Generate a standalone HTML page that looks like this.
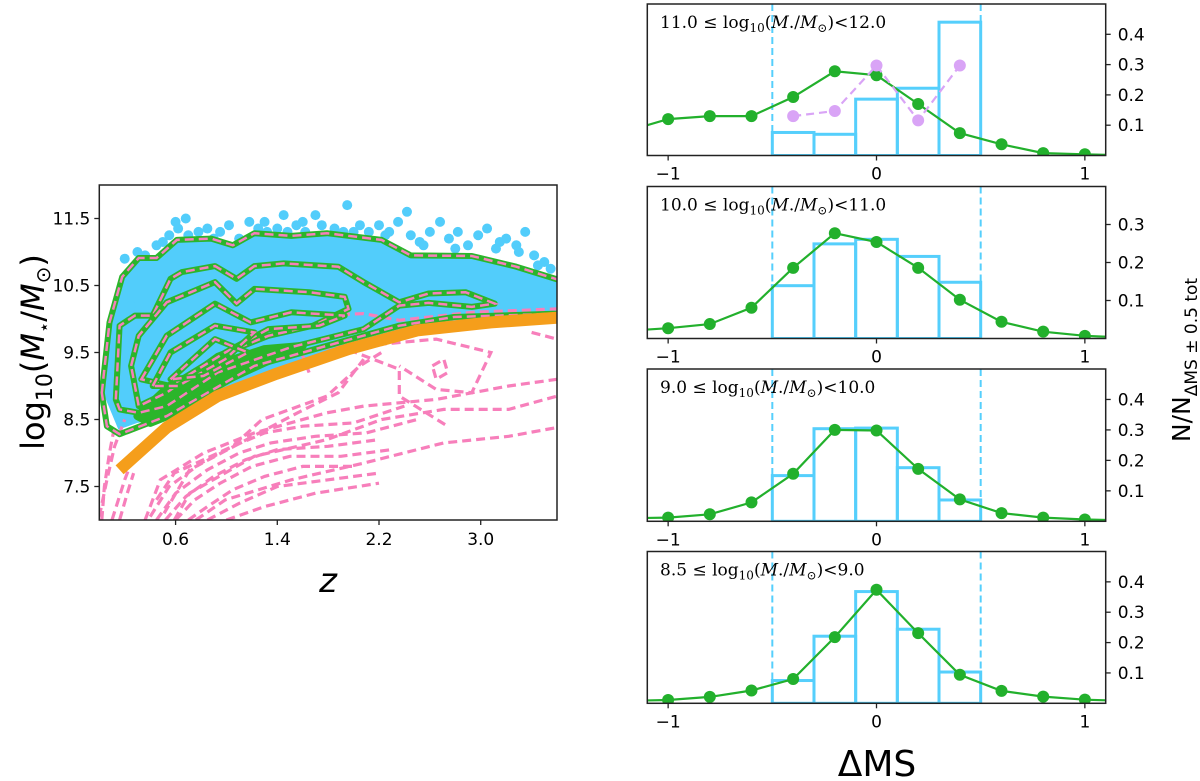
<!DOCTYPE html>
<html><head><meta charset="utf-8"><style>
html,body{margin:0;padding:0;background:#fff;}
svg{display:block;font-family:"DejaVu Sans","Liberation Sans",sans-serif;}
</style></head><body>
<svg id="fig" width="1200" height="781" viewBox="0 0 1200 781" xmlns="http://www.w3.org/2000/svg">
<defs><clipPath id="lclip"><rect x="99.3" y="185" width="457.7" height="335"/></clipPath>
<clipPath id="c0"><rect x="647.3" y="4" width="458.4" height="151.5"/></clipPath>
<clipPath id="c1"><rect x="647.3" y="186.5" width="458.4" height="152"/></clipPath>
<clipPath id="c2"><rect x="647.3" y="369" width="458.4" height="152.3"/></clipPath>
<clipPath id="c3"><rect x="647.3" y="551.5" width="458.4" height="151.8"/></clipPath></defs>
<g id="left"></g>
<g id="right"></g>
<text x="328" y="592" font-size="34" font-style="italic" text-anchor="middle">z</text>
<text transform="translate(44,352) rotate(-90)" font-size="32" text-anchor="middle">log<tspan font-size="22" dy="8">10</tspan><tspan dy="-8">(</tspan><tspan font-style="italic">M</tspan><tspan font-size="18" dy="6">⋆</tspan><tspan dy="-6">/</tspan><tspan font-style="italic">M</tspan><tspan font-size="20" dy="6">⊙</tspan><tspan dy="-6">)</tspan></text>
<text x="877" y="776" font-size="36" text-anchor="middle">ΔMS</text>
<text transform="translate(1190,360) rotate(-90)" font-size="25" text-anchor="middle">N/N<tspan font-size="17" dy="7">ΔMS ± 0.5 tot</tspan></text>
</svg>
<script>
// ---------- left panel data ----------
const orangeZ = [0.16,0.53,0.93,1.39,1.96,2.5,3.08,3.6];
const orangeM = [7.75,8.38,8.85,9.18,9.55,9.83,9.95,10.02];
const cyanCore = [[0.03,8.9],[0.07,9.9],[0.17,10.6],[0.3,10.88],[0.45,10.9],[0.6,11.15],[0.88,11.18],[1.05,11.08],[1.22,11.25],[1.5,11.22],[1.8,11.25],[2.2,11.15],[2.45,10.92],[2.93,10.92],[3.28,10.76],[3.6,10.58],[3.6,10.0],[3.08,9.95],[2.5,9.83],[1.96,9.55],[1.39,9.18],[0.93,8.85],[0.53,8.5],[0.3,8.45],[0.15,8.35]];
const scatterPts = [[0.12,9.3],[0.2,10.9],[0.3,11.0],[0.36,10.95],[0.45,11.1],[0.55,11.25],[0.62,11.35],[0.68,11.5],[0.7,11.25],[0.78,11.3],[0.85,11.35],[0.95,11.3],[1.02,11.4],[1.1,11.2],[1.18,11.45],[1.25,11.35],[1.32,11.3],[1.4,11.35],[1.48,11.3],[1.55,11.4],[1.62,11.3],[1.7,11.55],[1.75,11.4],[1.85,11.35],[1.92,11.3],[2.0,11.3],[2.05,11.4],[2.12,11.3],[2.2,11.4],[2.28,11.3],[2.35,11.45],[2.42,11.6],[2.45,11.25],[2.52,11.15],[2.6,11.3],[2.68,11.45],[2.75,11.2],[2.82,11.3],[2.9,11.1],[2.98,11.25],[3.05,11.35],[3.12,11.05],[3.2,11.2],[3.28,11.1],[3.35,11.3],[3.42,10.95],[3.5,10.85],[3.55,10.75],[1.95,11.7],[1.45,11.55],[0.6,11.45],[3.3,11.0],[0.25,10.2],[0.15,9.7],[0.08,9.4],[0.1,8.9],[2.55,11.1],[3.15,11.15],[2.25,11.25],[1.6,11.45],[0.9,11.2],[0.5,11.15],[3.45,10.8],[3.58,10.45],[1.3,11.45],[2.8,11.05]];
const greenContours = [
 [[0.02,8.9],[0.08,9.95],[0.18,10.63],[0.31,10.91],[0.45,10.91],[0.61,11.18],[0.88,11.2],[1.05,11.1],[1.22,11.28],[1.51,11.24],[1.79,11.28],[2.22,11.18],[2.45,10.95],[2.93,10.94],[3.28,10.78],[3.62,10.58],[3.62,10.08],[2.79,10.03],[2.36,9.9],[1.79,9.6],[1.22,9.3],[0.53,8.55],[0.16,8.28],[0.06,8.4]],
 [[0.13,8.8],[0.16,9.9],[0.28,10.05],[0.42,10.05],[0.56,10.6],[0.65,10.7],[0.91,10.79],[1.08,10.6],[1.22,10.79],[1.45,10.83],[1.88,10.78],[2.08,10.55],[2.36,10.25],[2.59,10.38],[2.88,10.4],[3.11,10.23],[2.93,10.18],[2.59,10.24],[2.36,10.2],[2.08,9.85],[1.51,9.58],[0.93,9.2],[0.53,8.7],[0.31,8.6],[0.16,8.65]],
 [[0.25,9.3],[0.31,9.75],[0.53,10.25],[0.91,10.55],[1.08,10.23],[1.22,10.45],[1.65,10.4],[1.93,10.33],[1.96,10.15],[1.68,9.9],[1.33,9.75],[0.93,9.45],[0.53,8.9],[0.31,8.7]],
 [[0.33,9.1],[0.53,9.75],[0.91,10.23],[1.19,9.95],[1.51,10.1],[1.93,10.05],[1.73,9.9],[1.33,9.85],[0.99,9.5],[0.56,9.0]],
 [[0.42,9.0],[0.56,9.5],[0.91,9.9],[1.22,9.8],[0.99,9.4],[0.62,9.0]],
 [[0.56,9.1],[0.91,9.7],[1.17,9.5],[0.82,9.15]]
];
const greenFill = [[0.3,8.55],[0.55,9.0],[0.9,9.3],[1.3,9.55],[1.6,9.6],[1.3,9.35],[0.9,9.0],[0.6,8.6],[0.4,8.45]];
const pinkContours = [
 [[0.0,7.05],[0.06,7.6],[0.12,8.1],[0.2,8.5]],
 [[0.1,7.0],[0.2,7.6],[0.28,8.0]],
 [[0.02,7.0],[0.04,7.5],[0.08,8.0],[0.12,8.4]],
 [[0.16,7.0],[0.22,7.4],[0.27,7.7]],
 [[0.36,7.0],[0.48,7.6],[0.82,8.0],[1.22,8.3],[1.79,8.6],[2.08,8.7],[2.65,8.8],[3.22,9.0],[3.6,9.1]],
 [[0.59,7.0],[0.71,7.4],[1.22,7.95],[1.79,8.2],[2.22,8.5],[2.71,8.65],[3.22,8.65],[3.6,8.85]],
 [[0.76,7.0],[0.99,7.3],[1.51,7.6],[2.08,7.85],[2.71,8.15],[3.22,8.25],[3.6,8.38]],
 [[0.40,7.05],[0.55,7.5],[0.8,7.85],[1.05,8.1],[1.3,8.3],[1.6,8.4],[2.0,8.45],[2.4,8.7]],
 [[0.45,7.0],[0.6,7.4],[0.85,7.75],[1.1,8.0],[1.35,8.15],[1.7,8.25],[2.1,8.3],[2.5,8.5]],
 [[0.52,7.0],[0.68,7.35],[0.9,7.65],[1.15,7.9],[1.4,8.05],[1.8,8.1],[2.2,8.2]],
 [[0.6,7.0],[0.75,7.3],[0.95,7.55],[1.2,7.8],[1.5,7.95],[1.9,7.95],[2.3,8.05]],
 [[0.7,7.0],[0.85,7.2],[1.05,7.45],[1.3,7.65],[1.6,7.8],[2.0,7.8]],
 [[0.85,7.0],[1.1,7.25],[1.4,7.5],[1.8,7.6],[2.2,7.7]],
 [[1.0,7.0],[1.3,7.2],[1.7,7.4],[2.2,7.55]],
 [[0.45,7.3],[0.59,7.7],[1.05,8.1],[1.28,8.5],[1.79,8.85],[2.05,9.3],[2.22,9.5]],
 [[0.51,7.1],[0.71,7.75],[1.11,8.15],[1.56,8.6],[1.88,8.9],[2.08,9.4]],
 [[1.65,9.2],[1.59,9.5],[1.88,9.6],[2.36,9.25],[2.36,8.85],[2.74,8.4]],
 [[2.08,9.6],[2.65,9.7],[3.08,9.5],[2.93,8.9],[2.65,8.95],[2.36,9.3]],
 [[2.62,9.3],[2.71,9.4],[2.74,9.2],[2.65,9.1],[2.62,9.3]],
 [[1.68,10.05],[2.08,10.08],[2.36,9.98],[2.93,10.1],[3.6,10.15]],
 [[3.4,9.8],[3.6,9.7]]
];
const leftXTicks = [0.6,1.4,2.2,3.0];
const leftXTickLabels = ["0.6","1.4","2.2","3.0"];
const leftYTicks = [7.5,8.5,9.5,10.5,11.5];
const leftYTickLabels = ["7.5","8.5","9.5","10.5","11.5"];

// ---------- right panel data ----------
const panelLabels = ["11.0","10.0","9.0","8.5"];
const panelLabelsHi = ["12.0","11.0","10.0","9.0"];
const histEdges = [-0.5,-0.3,-0.1,0.1,0.3,0.5];
const hist0 = [0.076,0.07,0.186,0.222,0.44];
const hist1 = [0.139,0.249,0.261,0.216,0.148];
const hist2 = [0.15,0.304,0.306,0.176,0.07];
const hist3 = [0.075,0.221,0.368,0.244,0.103];
const lineX = [-1.2,-1.0,-0.8,-0.6,-0.4,-0.2,0.0,0.2,0.4,0.6,0.8,1.0,1.2];
const line0 = [0.08,0.12,0.13,0.13,0.193,0.278,0.265,0.17,0.074,0.037,0.008,0.004,0.0];
const line1 = [0.02,0.027,0.038,0.081,0.186,0.277,0.254,0.186,0.102,0.044,0.018,0.007,0.002];
const line2 = [0.01,0.012,0.023,0.062,0.156,0.30,0.298,0.172,0.072,0.027,0.012,0.006,0.003];
const line3 = [0.008,0.011,0.021,0.042,0.08,0.218,0.374,0.231,0.094,0.041,0.022,0.012,0.008];
const purpleX = [-0.4,-0.2,0.0,0.2,0.4];
const purple0 = [0.13,0.147,0.297,0.116,0.297];
const panelYMax = [0.5,0.4,0.5,0.5];
const yTicks0 = [0.1,0.2,0.3,0.4];
const yTicks1 = [0.1,0.2,0.3];
const xTicksR = [-1,0,1];
const xTickLabelsR = ["−1","0","1"];

const NS="http://www.w3.org/2000/svg";
function mk(tag, attrs, parent){const e=document.createElementNS(NS,tag);for(const k in attrs)e.setAttribute(k,attrs[k]);parent.appendChild(e);return e;}

const L={x0:99.3,x1:557,y0:520,y1:185,zmin:0,zmax:3.6,mmin:7.0,mmax:12.0};
const lx=z=>L.x0+(z-L.zmin)/(L.zmax-L.zmin)*(L.x1-L.x0);
const ly=m=>L.y0-(m-L.mmin)/(L.mmax-L.mmin)*(L.y0-L.y1);
const left=document.getElementById('left');
const lg=mk('g',{'clip-path':'url(#lclip)'},left);
const ptsStr=a=>a.map(p=>lx(p[0]).toFixed(1)+','+ly(p[1]).toFixed(1)).join(' ');

let e=mk('polygon',{points:ptsStr(cyanCore),fill:'#52cdfb'},lg);


scatterPts.forEach(p=>{
 const c=mk('circle',{cx:lx(p[0]),cy:ly(p[1]),r:5,fill:'#52cdfb'},lg);
 
 
});
pinkContours.forEach(c=>{
 const p=mk('polyline',{points:ptsStr(c),fill:'none',stroke:'#f77fbb','stroke-width':3.2,'stroke-dasharray':'9,5'},lg);
 
 
});
e=mk('polygon',{points:ptsStr(greenFill),fill:'#2bb52b',stroke:'#2bb52b','stroke-width':8,'stroke-linejoin':'round'},lg);


greenContours.forEach(c=>{
 const g=mk('polygon',{points:ptsStr(c),fill:'none',stroke:'#2bb52b','stroke-width':6,'stroke-linejoin':'round'},lg);
 
 
 const p=mk('polygon',{points:ptsStr(c),fill:'none',stroke:'#f77fbb','stroke-width':2.5,'stroke-dasharray':'9,5'},lg);
 
 
});
e=mk('polyline',{points:orangeZ.map((z,i)=>lx(z).toFixed(1)+','+ly(orangeM[i]).toFixed(1)).join(' '),fill:'none',stroke:'#f59e1b','stroke-width':12},lg);


e=mk('rect',{x:L.x0,y:L.y1,width:L.x1-L.x0,height:L.y0-L.y1,fill:'none',stroke:'#222','stroke-width':1.5},left);


leftXTicks.forEach((t,i)=>{
 mk('line',{x1:lx(t),x2:lx(t),y1:L.y0,y2:L.y0+5,stroke:'#222','stroke-width':1.3},left);
 const tx=mk('text',{x:lx(t),y:L.y0+25,'font-size':17,'text-anchor':'middle'},left);
 tx.textContent=leftXTickLabels[i];
 
 
});
leftYTicks.forEach((t,i)=>{
 mk('line',{x1:L.x0-5,x2:L.x0,y1:ly(t),y2:ly(t),stroke:'#222','stroke-width':1.3},left);
 const tx=mk('text',{x:L.x0-9,y:ly(t)+6,'font-size':17,'text-anchor':'end'},left);
 tx.textContent=leftYTickLabels[i];
 
 
});

const right=document.getElementById('right');
const R={x0:647.3,x1:1105.7,xmin:-1.1,xmax:1.1};
const rx=v=>R.x0+(v-R.xmin)/(R.xmax-R.xmin)*(R.x1-R.x0);
const tops=[4,186.5,369,551.5], bots=[155.5,338.5,521.3,703.3];
const hists=[hist0,hist1,hist2,hist3], lines=[line0,line1,line2,line3];
for(let p=0;p<4;p++){
 const g=mk('g',{},right);
 
 
 const ry=v=>bots[p]-v/panelYMax[p]*(bots[p]-tops[p]);
 const cg=mk('g',{'clip-path':'url(#c'+p+')'},g);
 hists[p].forEach((h,i)=>{
  const r=mk('rect',{x:rx(histEdges[i]),y:ry(h),width:rx(histEdges[i+1])-rx(histEdges[i]),height:ry(0)-ry(h),fill:'none',stroke:'#55cffc','stroke-width':3},cg);
  
  
 });
 [-0.5,0.5].forEach(v=>{
  const l=mk('line',{x1:rx(v),x2:rx(v),y1:tops[p],y2:bots[p],stroke:'#55cffc','stroke-width':2,'stroke-dasharray':'7,4'},cg);
  
  
 });
 const pl=mk('polyline',{points:lineX.map((x,i)=>rx(x).toFixed(1)+','+ry(lines[p][i]).toFixed(1)).join(' '),fill:'none',stroke:'#22b02c','stroke-width':2.2},cg);
 
 
 lineX.forEach((x,i)=>{
  const c=mk('circle',{cx:rx(x),cy:ry(lines[p][i]),r:6,fill:'#22b02c'},cg);
  
  
 });
 if(p===0){
  const pp=mk('polyline',{points:purpleX.map((x,i)=>rx(x).toFixed(1)+','+ry(purple0[i]).toFixed(1)).join(' '),fill:'none',stroke:'#d9a4f6','stroke-width':2.2,'stroke-dasharray':'8,5'},cg);
  
  
  purpleX.forEach((x,i)=>{
   const c=mk('circle',{cx:rx(x),cy:ry(purple0[i]),r:6,fill:'#d9a4f6'},cg);
   
   
  });
 }
 const fr=mk('rect',{x:R.x0,y:tops[p],width:R.x1-R.x0,height:bots[p]-tops[p],fill:'none',stroke:'#222','stroke-width':1.5},g);
 
 
 const yt=(p===1)?yTicks1:yTicks0;
 yt.forEach(t=>{
  mk('line',{x1:R.x1,x2:R.x1+5,y1:ry(t),y2:ry(t),stroke:'#222','stroke-width':1.3},g);
  const tx=mk('text',{x:R.x1+12,y:ry(t)+6,'font-size':17},g);
  tx.textContent=t.toFixed(1);
  
  
 });
 xTicksR.forEach((t,i)=>{
  mk('line',{x1:rx(t),x2:rx(t),y1:bots[p],y2:bots[p]+5,stroke:'#222','stroke-width':1.3},g);
  const tx=mk('text',{x:rx(t),y:bots[p]+24,'font-size':17,'text-anchor':'middle'},g);
  tx.textContent=xTickLabelsR[i];
  
  
 });
 const lab=mk('text',{x:660,y:tops[p]+24,'font-size':17,'font-family':'"DejaVu Serif","Liberation Serif",serif'},g);
 lab.innerHTML=panelLabels[p]+' ≤ log<tspan font-size="12" dy="4">10</tspan><tspan dy="-4">(</tspan><tspan font-style="italic">M</tspan>./<tspan font-style="italic">M</tspan><tspan font-size="12" dy="4">⊙</tspan><tspan dy="-4">)&lt;'+panelLabelsHi[p]+'</tspan>';
 
 
}
</script>
</body></html>
